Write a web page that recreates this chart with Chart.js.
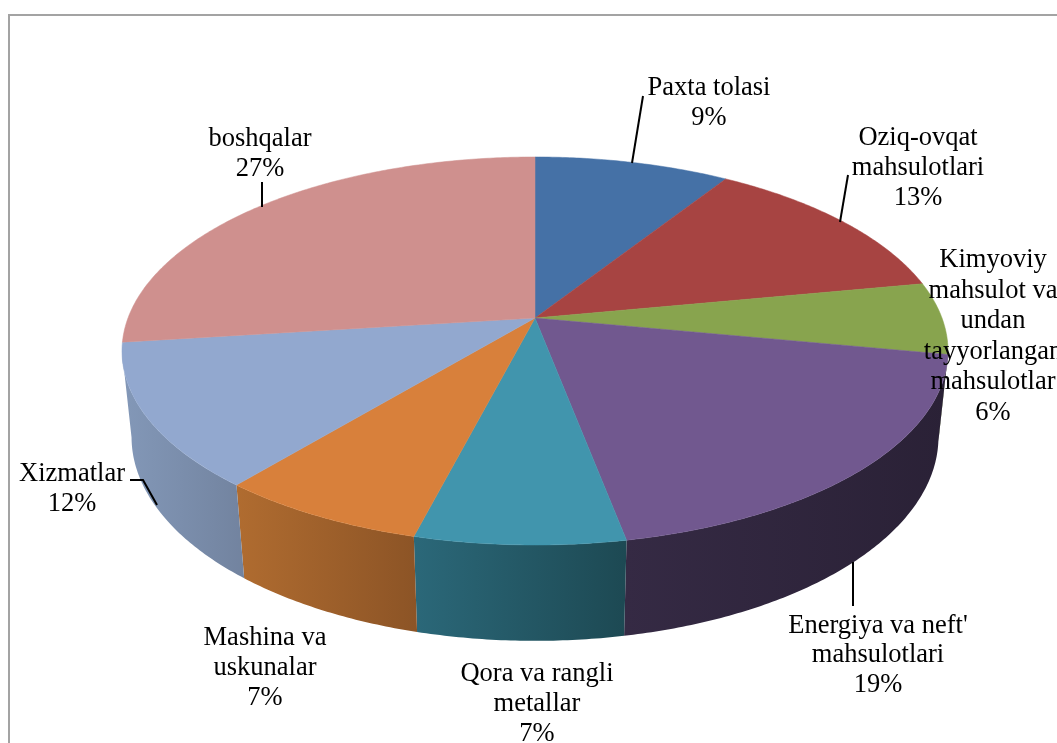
<!DOCTYPE html>
<html>
<head>
<meta charset="utf-8">
<title>Pie</title>
<script src="https://cdn.jsdelivr.net/npm/chart.js@4"></script>
<style>
  html, body { margin: 0; padding: 0; background: #fff; overflow: hidden; }
  canvas { display: block; }
</style>
</head>
<body>
<canvas id="pieChart" width="1057" height="743"></canvas>
<script>
// data
const categories = [
  ['Paxta tolasi'],
  ['Oziq-ovqat', 'mahsulotlari'],
  ['Kimyoviy', 'mahsulot va', 'undan', 'tayyorlangan', 'mahsulotlar'],
  ['Energiya va neft\'', 'mahsulotlari'],
  ['Qora va rangli', 'metallar'],
  ['Mashina va', 'uskunalar'],
  ['Xizmatlar'],
  ['boshqalar']
];
const shares = [9, 13, 6, 19, 7, 7, 12, 27];

// colours
const topColors = ['#4571a6', '#a74442', '#88a44e', '#71588f', '#4195ad', '#d8803b', '#92a8cf', '#cf908e'];
const wallLeft = ['#2f4d72', '#732e2d', '#5d7035', '#352a44', '#2b6879', '#b06c30', '#8398b8', '#8f6462'];
const wallRight = ['#2f4d72', '#732e2d', '#5d7035', '#2a2136', '#1d4953', '#8c5426', '#72839f', '#8f6462'];

// label layout: centre x, y of each line
const labelX = [709, 918, 993, 878, 537, 265, 72, 260];
const labelY = [
  [88.5, 118.5],
  [138.5, 168.5, 198.5],
  [260.5, 291, 321.5, 352.5, 382.5, 413.5],
  [626.5, 655.5, 685.5],
  [674.5, 704.5, 734.5],
  [638.5, 668.5, 698.5],
  [474.5, 504.5],
  [139.5, 169.5]
];
const leaders = [
  [[632, 163], [643, 96]],
  [[840, 222], [848, 175]],
  [],
  [[853, 562], [853, 606]],
  [],
  [],
  [[130, 480], [143, 480], [157, 505]],
  [[262, 182], [262, 207]]
];

// perspective of the tilted disc (z = 0 top face, z = 1 bottom face)
const view = { cx: 535, cy: 318, a: 407, b: 188.4, k: 0.17, depth: 87, m: 0.023 };
function project(t, z) {
  const x = Math.cos(t), y = Math.sin(t);
  const w = 1 - view.k * y + view.m * z;
  return [view.cx + view.a * x / w, view.cy + (view.b * y + view.depth * z) / w];
}

const wallFrom = 9.7 * Math.PI / 180;
const wallTo = 170.3 * Math.PI / 180;

function drawWall(ctx, start, end, i) {
  const s = Math.max(start, wallFrom), e = Math.min(end, wallTo);
  if (e <= s) return;
  const n = Math.ceil((e - s) / 0.01);
  const upper = [], lower = [];
  for (let j = 0; j <= n; j++) {
    const t = s + (e - s) * j / n;
    upper.push(project(t, 0));
    lower.push(project(t, 1));
  }
  const pts = upper.concat(lower.reverse());
  const xs = pts.map(p => p[0]);
  // the slices run right to left on the front, colours are given left to right
  const g = ctx.createLinearGradient(Math.min(...xs), 0, Math.max(...xs), 0);
  g.addColorStop(0, wallLeft[i]);
  g.addColorStop(1, wallRight[i]);
  ctx.beginPath();
  pts.forEach((p, j) => j ? ctx.lineTo(p[0], p[1]) : ctx.moveTo(p[0], p[1]));
  ctx.closePath();
  ctx.fillStyle = g;
  ctx.fill();
}

function drawTop(ctx, start, end, color) {
  const n = Math.ceil((end - start) / 0.01);
  ctx.beginPath();
  ctx.moveTo(view.cx, view.cy);
  for (let j = 0; j <= n; j++) {
    const p = project(start + (end - start) * j / n, 0);
    ctx.lineTo(p[0], p[1]);
  }
  ctx.closePath();
  ctx.fillStyle = color;
  ctx.strokeStyle = color;
  ctx.lineWidth = 0.5;
  ctx.fill();
  ctx.stroke();
}

// Chart.js works out the slice angles, this only changes how the arcs get painted
const tiltedPie = {
  id: 'tiltedPie',
  beforeDatasetsDraw(chart) {
    const ctx = chart.ctx;
    const arcs = chart.getDatasetMeta(0).data;
    ctx.save();
    arcs.forEach((arc, i) => drawWall(ctx, arc.startAngle, arc.endAngle, i));
    arcs.forEach((arc, i) => drawTop(ctx, arc.startAngle, arc.endAngle, arc.options.backgroundColor));
    ctx.restore();
    return false;
  },
  afterDraw(chart) {
    const ctx = chart.ctx;
    ctx.save();
    // frame, only top and left are inside the picture
    ctx.strokeStyle = '#a3a3a3';
    ctx.lineWidth = 2;
    ctx.beginPath();
    ctx.moveTo(9, 743);
    ctx.lineTo(9, 15);
    ctx.lineTo(1057, 15);
    ctx.stroke();
    // leader lines
    ctx.strokeStyle = '#000';
    ctx.lineWidth = 2;
    leaders.forEach(line => {
      if (!line.length) return;
      ctx.beginPath();
      line.forEach((p, j) => j ? ctx.lineTo(p[0], p[1]) : ctx.moveTo(p[0], p[1]));
      ctx.stroke();
    });
    // labels
    ctx.fillStyle = '#000';
    ctx.font = '26.5px "Liberation Serif"';
    ctx.textAlign = 'center';
    ctx.textBaseline = 'middle';
    categories.forEach((lines, i) => {
      const text = lines.concat(shares[i] + '%');
      text.forEach((str, j) => ctx.fillText(str, labelX[i], labelY[i][j]));
    });
    ctx.restore();
  }
};

new Chart(document.getElementById('pieChart'), {
  type: 'pie',
  data: {
    labels: categories.map(c => c.join(' ')),
    datasets: [{ data: shares, backgroundColor: topColors, borderWidth: 0 }]
  },
  options: {
    responsive: false,
    animation: false,
    plugins: { legend: { display: false }, tooltip: { enabled: false } }
  },
  plugins: [tiltedPie]
});
</script>
</body>
</html>
